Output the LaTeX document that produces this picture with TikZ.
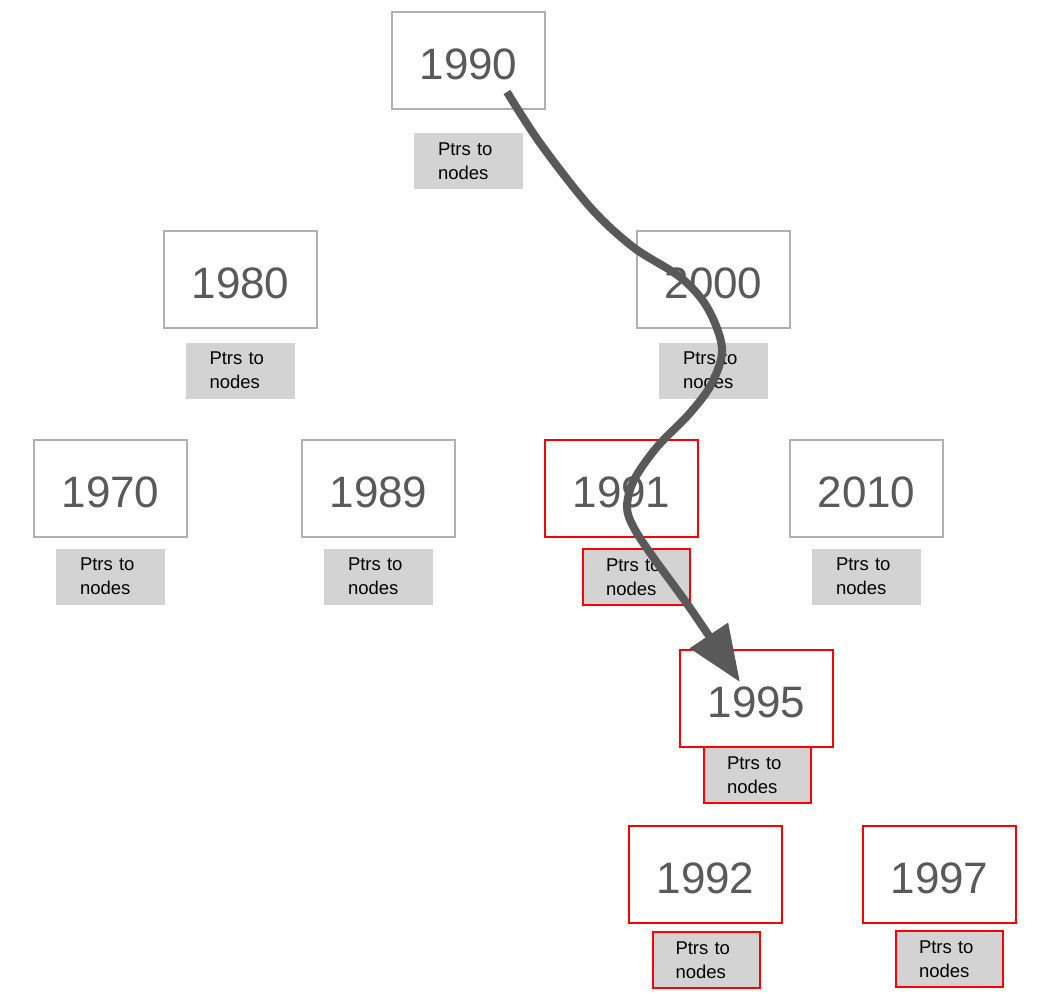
\documentclass[tikz,border=0pt]{standalone}
\usepackage{fontspec}
\setmainfont{Liberation Sans}
\usetikzlibrary{arrows.meta}
\definecolor{txtgrey}{HTML}{595959}
\definecolor{boxgrey}{HTML}{B0B0B0}
\definecolor{lblfill}{HTML}{D3D3D3}
\definecolor{hotred}{HTML}{FF0000}
\tikzset{
  yearbox/.style={draw=boxgrey, line width=1.6pt, fill=white, minimum width=153pt, minimum height=97pt, inner sep=0pt, text height=37pt, text depth=0pt, text=txtgrey, font=\fontsize{44}{50}\selectfont},
  hotyear/.style={yearbox, draw=hotred},
  ptrbox/.style={fill=lblfill, minimum width=109pt, minimum height=56pt, inner sep=0pt, text width=61pt, align=left, text=black, font=\fontsize{18.5}{24}\selectfont},
  hotptr/.style={ptrbox, draw=hotred, line width=2pt, minimum width=107pt},
  searchpath/.style={draw=txtgrey, line width=8pt, -{Triangle[length=56pt,width=44pt]}}
}
\begin{document}
\begin{tikzpicture}[x=1pt,y=-1pt]
\useasboundingbox (0,0) rectangle (1044,1004);
% year boxes
\node[yearbox] (y1990) at (468.5,60.5) {1990};
\node[yearbox] (y1980) at (240.5,279.5) {1980};
\node[yearbox] (y2000) at (713.5,279.5) {2000};
\node[yearbox] (y1970) at (110.5,488.5) {1970};
\node[yearbox] (y1989) at (378.5,488.5) {1989};
\node[hotyear] (y1991) at (621.5,488.5) {1991};
\node[yearbox] (y2010) at (866.5,488.5) {2010};
\node[hotyear] (y1995) at (756.5,698.5) {1995};
\node[hotyear] (y1992) at (705.5,874.5) {1992};
\node[hotyear] (y1997) at (939.5,874.5) {1997};
% pointer boxes
\node[ptrbox] (p1990) at (468.5,161) {Ptrs to\\nodes};
\node[ptrbox] (p1980) at (240,370.5) {Ptrs to\\nodes};
\node[ptrbox] (p2000) at (713.5,370.5) {Ptrs to\\nodes};
\node[ptrbox] (p1970) at (110.5,576.5) {Ptrs to\\nodes};
\node[ptrbox] (p1989) at (378.5,576.5) {Ptrs to\\nodes};
\node[hotptr] (p1991) at (636.5,577) {Ptrs to\\nodes};
\node[ptrbox] (p2010) at (866.5,576.5) {Ptrs to\\nodes};
\node[hotptr] (p1995) at (757.5,775) {Ptrs to\\nodes};
\node[hotptr] (p1992) at (706,960) {Ptrs to\\nodes};
\node[hotptr] (p1997) at (949.5,959) {Ptrs to\\nodes};
% search path
\coordinate (sstart) at ([shift={(38.5,31.5)}]y1990.center);
\coordinate (send) at ([shift={(-16.5,-16.5)}]y1995.center);
\path[searchpath] plot[smooth, tension=0.55] coordinates {(sstart) (540,143) (590,207) (633,247) (680,277) (707,307) (722,348) (712,383) (690,413) (657,447) (634,480) (627,507) (634,528) (653,557) (690,608) (send)};
\end{tikzpicture}
\end{document}
